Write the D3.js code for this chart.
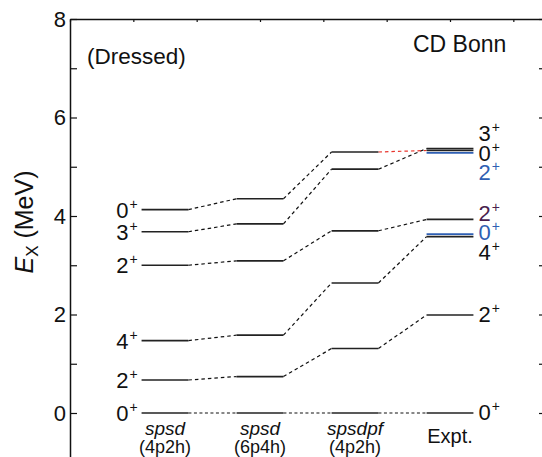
<!DOCTYPE html>
<html>
<head>
<meta charset="utf-8">
<script src="https://cdn.jsdelivr.net/npm/d3@7"></script>
<style>
    body { margin: 0; background: #fff; }
    svg text { font-family: "Liberation Sans", Arial, sans-serif; fill: #111; }
</style>
</head>
<body>
<div id="chart"></div>
<script>
// Column labels (model space / experiment)
var models = ["spsd", "spsd", "spsdpf", "Expt."];
var spaces = ["(4p2h)", "(6p4h)", "(4p2h)", ""];

// Spins of the states followed across the columns (all positive parity)
var spins = [0, 2, 4, 2, 3, 0];

// Excitation energies (MeV) for each state, per column
var spsd4p2h = [0, 0.67, 1.47, 3.00, 3.68, 4.13];
var spsd6p4h = [0, 0.74, 1.58, 3.09, 3.84, 4.35];
var spsdpf4p2h = [0, 1.31, 2.64, 3.70, 4.95, 5.30];
var expt = [0, 1.99, 3.58, 3.93, 5.37, 5.33];

// Extra experimental levels without a partner in the calculations
var extraSpins = [0, 2];
var extraEx = [3.63, 5.28];

var columns = [spsd4p2h, spsd6p4h, spsdpf4p2h, expt];

var svgWidth = 542;
var svgHeight = 457;

var blue = "#2f5fb3";
var purple = "#4a1f4e";

var svg = d3.select("#chart")
    .append("svg")
    .attr("width", svgWidth)
    .attr("height", svgHeight);

// scales: x in frame units, y in MeV
var x = d3.scaleLinear().domain([0, 7.5]).range([70, 545]);
var y = d3.scaleLinear().domain([-1, 8]).range([462.25, 19]);

var col = d3.scalePoint()
    .domain(d3.range(models.length))
    .range([x(1.5), x(6)]);
var halfW = x(0.37) - x(0);

// left axis, inward ticks, labels every 2 MeV
var leftAxis = d3.axisLeft(y)
    .ticks(9)
    .tickSizeInner(-7)
    .tickSizeOuter(0)
    .tickPadding(4)
    .tickFormat(d => d % 2 === 0 ? d : "");

var gLeft = svg.append("g")
    .attr("transform", `translate(${x(0)},0)`)
    .call(leftAxis);
gLeft.selectAll("text")
    .attr("font-size", 22)
    .attr("font-family", "Liberation Sans, Arial, sans-serif")
    .attr("fill", "#111");

// right axis, ticks only
svg.append("g")
    .attr("transform", `translate(${x(7.5)},0)`)
    .call(d3.axisRight(y).ticks(9).tickSizeInner(-6).tickSizeOuter(0).tickFormat(""));

// top axis, small ticks only
svg.append("g")
    .attr("transform", `translate(0,${y(8)})`)
    .call(d3.axisTop(x).ticks(8).tickSizeInner(-3).tickSizeOuter(0).tickFormat(""));

svg.selectAll(".domain").attr("stroke", "#111").attr("stroke-width", 1.5);
svg.selectAll(".tick line").attr("stroke", "#111").attr("stroke-width", 1.2);

// y axis title
var yTitle = svg.append("text")
    .attr("transform", `translate(33,222) rotate(-90)`)
    .attr("text-anchor", "middle")
    .attr("font-size", 25);
yTitle.append("tspan").attr("font-style", "italic").text("E");
yTitle.append("tspan").attr("font-size", 17).attr("dy", 5).text("X");
yTitle.append("tspan").attr("dy", -5).text(" (MeV)");

// connectors between columns
spins.forEach(function (J, s) {
    for (var c = 0; c < columns.length - 1; c++) {
        var red = (s === 5 && c === columns.length - 2);
        svg.append("line")
            .attr("x1", col(c) + halfW)
            .attr("y1", y(columns[c][s]))
            .attr("x2", col(c + 1) - halfW)
            .attr("y2", y(columns[c + 1][s]))
            .attr("stroke", red ? "#e8342c" : "#111")
            .attr("stroke-width", 1.2)
            .attr("stroke-dasharray", s === 0 ? "3,2.5" : "3.5,3");
    }
});

// level lines
columns.forEach(function (energies, c) {
    svg.selectAll(null)
        .data(energies)
        .enter()
        .append("line")
        .attr("x1", col(c) - halfW)
        .attr("x2", col(c) + halfW)
        .attr("y1", d => y(d))
        .attr("y2", d => y(d))
        .attr("stroke", "#222")
        .attr("stroke-width", 1.7);
});

svg.selectAll(null)
    .data(extraEx)
    .enter()
    .append("line")
    .attr("x1", col(3) - halfW)
    .attr("x2", col(3) + halfW)
    .attr("y1", d => y(d))
    .attr("y2", d => y(d))
    .attr("stroke", blue)
    .attr("stroke-width", 1.7);

// push overlapping labels apart, keeping cluster centres
function declutter(items, gap) {
    items.sort((a, b) => a.y0 - b.y0);
    items.forEach(d => d.y = d.y0);
    for (var it = 0; it < 200; it++) {
        for (var i = 1; i < items.length; i++) {
            var over = gap - (items[i].y - items[i - 1].y);
            if (over > 0) {
                items[i - 1].y -= over / 2;
                items[i].y += over / 2;
            }
        }
    }
    return items;
}

function spinLabel(d, xPos, anchor, shift) {
    var t = svg.append("text")
        .attr("x", xPos)
        .attr("y", d.y + 8 + shift)
        .attr("text-anchor", anchor)
        .attr("font-size", 22)
        .style("fill", d.color);
    t.append("tspan").text(d.J);
    t.append("tspan").attr("font-size", 14).attr("dx", 1).attr("dy", -9).text("+");
}

// labels left of the first column
spins.map((J, s) => ({ J: J, y0: y(spsd4p2h[s]), color: "#111" }))
    .forEach(d => { d.y = d.y0; spinLabel(d, col(0) - halfW - 4, "end", 0); });

// labels right of the experimental column
var exptLabels = spins.map((J, s) => ({ J: J, y0: y(expt[s]), color: s === 3 ? purple : "#111" }))
    .concat(extraSpins.map((J, i) => ({ J: J, y0: y(extraEx[i]), color: blue })));
declutter(exptLabels, 19.5).forEach(d => spinLabel(d, col(3) + halfW + 5, "start", d.y0 === d.y ? -1 : 2));

// column names under the levels
models.forEach(function (m, c) {
    var isExpt = spaces[c] === "";
    svg.append("text")
        .attr("x", col(c))
        .attr("y", isExpt ? 443 : 435)
        .attr("text-anchor", "middle")
        .attr("font-size", isExpt ? 20 : 19)
        .attr("font-style", isExpt ? "normal" : "italic")
        .text(m);
    svg.append("text")
        .attr("x", col(c))
        .attr("y", 453)
        .attr("text-anchor", "middle")
        .attr("font-size", 18)
        .text(spaces[c]);
});

// annotations
svg.append("text")
    .attr("x", 87)
    .attr("y", 64)
    .attr("font-size", 22.5)
    .text("(Dressed)");

svg.append("text")
    .attr("x", 413)
    .attr("y", 52)
    .attr("font-size", 23)
    .text("CD Bonn");
</script>
</body>
</html>
